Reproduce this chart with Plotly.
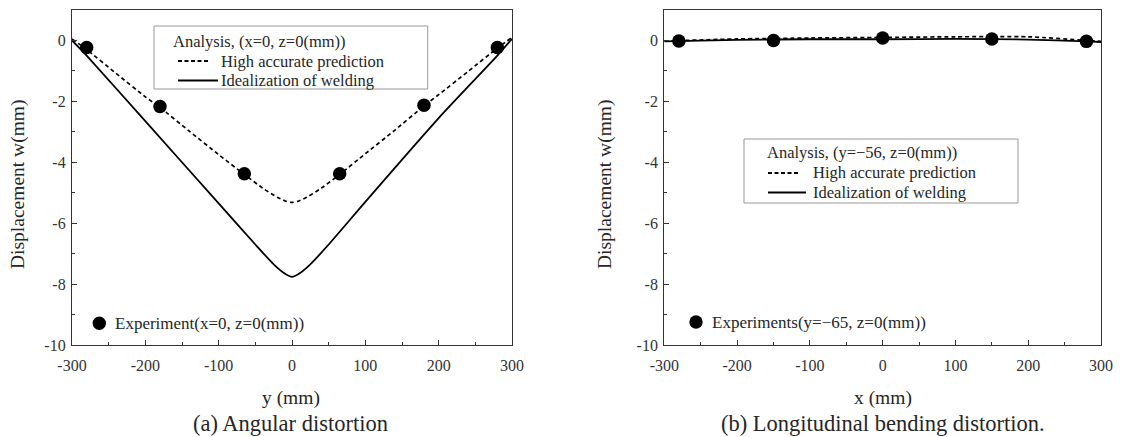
import plotly.graph_objects as go

# ---------------- data ----------------
# (a) Angular distortion  (x=0, z=0)
a_hp_y = [-300, -280, -240, -200, -180, -140, -100, -65, -40, -20, -8, 0, 8, 20, 40, 65, 100, 140, 180, 200, 240, 280, 300]
a_hp_w = [0.05, -0.3, -1.08, -1.85, -2.2, -2.98, -3.75, -4.4, -4.85, -5.15, -5.28, -5.32, -5.28, -5.15, -4.85, -4.4, -3.72, -2.95, -2.15, -1.78, -1.02, -0.25, 0.1]
a_id_y = [-300, -280, -200, -100, -50, -25, -10, 0, 10, 25, 50, 100, 200, 280, 300]
a_id_w = [0.0, -0.5, -2.65, -5.35, -6.7, -7.35, -7.65, -7.76, -7.65, -7.35, -6.7, -5.3, -2.55, -0.5, 0.05]
a_exp_y = [-280, -180, -65, 65, 180, 280]
a_exp_w = [-0.23, -2.17, -4.38, -4.38, -2.13, -0.23]

# (b) Longitudinal bending distortion  (y=-56, z=0)
b_hp_x = [-300, -200, -100, 0, 100, 200, 280, 300]
b_hp_w = [-0.02, 0.05, 0.08, 0.1, 0.12, 0.12, 0.0, -0.03]
b_id_x = [-300, -200, -100, 0, 100, 200, 280, 300]
b_id_w = [-0.03, 0.02, 0.04, 0.04, 0.05, 0.03, -0.03, -0.05]
b_exp_x = [-280, -150, 0, 150, 280]
b_exp_w = [-0.02, 0.0, 0.08, 0.05, -0.03]

x_ticks = [-300, -200, -100, 0, 100, 200, 300]
x_ticktext = ["-300", "-200", "-100", "0", "100", "200", "300"]
y_ticks = [0, -2, -4, -6, -8, -10]
y_ticktext = ["0", "-2", "-4", "-6", "-8", "-10"]

legend_title_a = "Analysis, (x=0, z=0(mm))"
legend_title_b = "Analysis, (y=\u221256, z=0(mm))"
name_hp = "High accurate prediction"
name_id = "Idealization of welding"
name_exp_a = "Experiment(x=0, z=0(mm))"
name_exp_b = "Experiments(y=\u221265, z=0(mm))"

FONT = "Liberation Serif"
W, H = 1125, 437
TXT = "#262626"
AX = "#333333"
LEG_SIZE = 16.5

fig = go.Figure()

def add_panel(xa, ya, hp_x, hp_w, id_x, id_w, ex_x, ex_w, ex_name):
    fig.add_trace(go.Scatter(x=hp_x, y=hp_w, mode="lines", name=name_hp,
                             line=dict(color="black", width=1.7, dash="4px,3px", shape="spline", smoothing=0.6),
                             xaxis=xa, yaxis=ya))
    fig.add_trace(go.Scatter(x=id_x, y=id_w, mode="lines", name=name_id,
                             line=dict(color="black", width=1.8, shape="spline", smoothing=0.6),
                             xaxis=xa, yaxis=ya))
    fig.add_trace(go.Scatter(x=ex_x, y=ex_w, mode="markers", name=ex_name,
                             marker=dict(color="black", size=13.5, symbol="circle"),
                             xaxis=xa, yaxis=ya))

add_panel("x", "y", a_hp_y, a_hp_w, a_id_y, a_id_w, a_exp_y, a_exp_w, name_exp_a)
add_panel("x2", "y2", b_hp_x, b_hp_w, b_id_x, b_id_w, b_exp_x, b_exp_w, name_exp_b)

ydom = [1 - 345 / H, 1 - 10 / H]
xdom1 = [72 / W, 512 / W]
xdom2 = [664.3 / W, 1101 / W]

common_x = dict(range=[-300, 300], tickvals=x_ticks, ticktext=x_ticktext, ticks="inside", ticklen=5,
                tickcolor=AX, showline=True, linecolor=AX, linewidth=1.3, mirror=True, automargin=False,
                showgrid=False, zeroline=False, tickfont=dict(family=FONT, size=16, color="#333"),
                ticklabelstandoff=6,
                minor=dict(dtick=50, ticks="inside", ticklen=3, tickcolor=AX))
common_y = dict(range=[-10, 1], tickvals=y_ticks, ticktext=y_ticktext, ticks="inside", ticklen=5,
                tickcolor=AX, showline=True, linecolor=AX, linewidth=1.3, mirror=True, automargin=False,
                showgrid=False, zeroline=False, tickfont=dict(family=FONT, size=16, color="#333"),
                ticklabelstandoff=2,
                minor=dict(dtick=1, ticks="inside", ticklen=3, tickcolor=AX))

fig.update_layout(
    template="none",
    width=W, height=H, margin=dict(l=0, r=0, t=0, b=0, pad=0, autoexpand=False),
    paper_bgcolor="white", plot_bgcolor="white",
    font=dict(family=FONT, color=TXT),
    xaxis=dict(domain=xdom1, anchor="y", **common_x),
    yaxis=dict(domain=ydom, anchor="x", **common_y),
    xaxis2=dict(domain=xdom2, anchor="y2", **common_x),
    yaxis2=dict(domain=ydom, anchor="x2", **common_y),
    showlegend=False,
)

def px(x):
    return x / W

def py(y):
    return 1 - y / H

def text(t, x, y, size, xanchor="left", angle=0):
    fig.add_annotation(text=t, x=px(x), y=py(y), xref="paper", yref="paper",
                       xanchor=xanchor, yanchor="middle", showarrow=False, textangle=angle,
                       borderpad=0, font=dict(family=FONT, size=size, color=TXT))

def legend_box(x0, y0, x1, y1, title, tx, ty, samp_x0, dash_x1, solid_x1, item_tx, row2, row3):
    fig.add_shape(type="rect", xref="paper", yref="paper", x0=px(x0), x1=px(x1), y0=py(y1), y1=py(y0),
                  line=dict(color="#999999", width=1), fillcolor="white", layer="above")
    fig.add_shape(type="line", xref="paper", yref="paper", x0=px(samp_x0), x1=px(dash_x1), y0=py(row2), y1=py(row2),
                  line=dict(color="black", width=1.8, dash="4px,2.5px"), layer="above")
    fig.add_shape(type="line", xref="paper", yref="paper", x0=px(samp_x0), x1=px(solid_x1), y0=py(row3), y1=py(row3),
                  line=dict(color="black", width=2), layer="above")
    text(title, tx, ty, LEG_SIZE)
    text(name_hp, item_tx, row2, LEG_SIZE)
    text(name_id, item_tx, row3, LEG_SIZE)

def exp_legend(cx, cy, label, tx):
    r = 6.7
    fig.add_shape(type="circle", xref="paper", yref="paper", x0=px(cx - r), x1=px(cx + r),
                  y0=py(cy + r), y1=py(cy - r), line=dict(color="black", width=0), fillcolor="black",
                  layer="above")
    text(label, tx, cy, LEG_SIZE + 0.5)

legend_box(154, 26, 427.7, 89, legend_title_a, 172, 41.5, 178, 210, 218, 220, 61, 80.5)
legend_box(744, 139, 1018, 203, legend_title_b, 766, 152.5, 768, 800, 806, 812, 173, 192.5)
exp_legend(99.3, 323.3, name_exp_a, 114)
exp_legend(696, 322, name_exp_b, 711)

text("Displacement w(mm)", 18, 184, 19.5, xanchor="center", angle=-90)
text("Displacement w(mm)", 605, 184, 19.5, xanchor="center", angle=-90)
text("y (mm)", 291, 398, 19.5, xanchor="center")
text("x (mm)", 883, 398, 19.5, xanchor="center")
text("(a) Angular distortion", 290, 423, 22.5, xanchor="center")
text("(b) Longitudinal bending distortion.", 883, 423, 22.5, xanchor="center")

fig.write_html("out.html")
